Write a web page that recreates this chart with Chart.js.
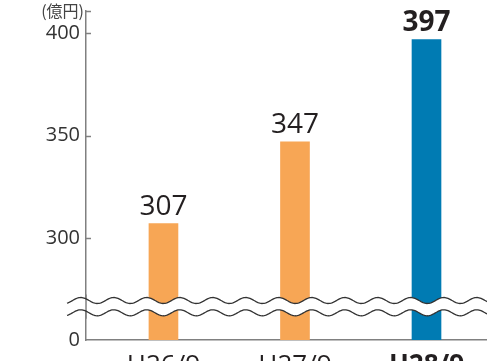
<!DOCTYPE html>
<html>
<head>
  <meta charset="utf-8">
  <title>売上高の推移</title>
  <script src="https://cdn.jsdelivr.net/npm/chart.js"></script>
  <style>
    html, body {
      margin: 0;
      padding: 0;
      background: #fff;
      overflow: hidden;
    }
    .wrap {
      position: absolute;
      left: 0;
      top: 0;
      width: 487px;
      height: 400px;
    }
  </style>
</head>
<body>
  <div class="wrap"><canvas id="salesChart"></canvas></div>

  <script>
    const categories = ['H26/9', 'H27/9', 'H28/9'];
    const values = [307, 347, 397];
    const yTicks = [250, 300, 350, 400];
    const yTickLabels = ['0', '300', '350', '400'];
    const unitLabel = '(億円)';

    const barColors = ['#f7a655', '#f7a655', '#007bb3'];
    const axisColor = '#808080';
    const textColor = '#231f20';
    const fontFamily = "'Open Sans', sans-serif";
    const latest = categories.length - 1;

    // wavy break marks across the lower part of the axis
    function wave(ctx, yc, x0, x1, back) {
      const amp = 3, period = 33, phase = 163.3;
      for (let i = 0; i <= x1 - x0; i++) {
        const x = back ? x1 - i : x0 + i;
        const y = yc + amp * Math.cos(2 * Math.PI * (x - phase) / period);
        if (i === 0 && !back) ctx.moveTo(x, y); else ctx.lineTo(x, y);
      }
    }

    const decorations = {
      id: 'decorations',
      afterDatasetsDraw(chart) {
        const { ctx, chartArea, scales: { y } } = chart;
        const x0 = 67, x1 = chart.width;
        const top = 300.5, bottom = 312.8;

        ctx.save();
        // white band between the two waves
        ctx.beginPath();
        wave(ctx, top, x0, x1, false);
        wave(ctx, bottom, x0, x1, true);
        ctx.closePath();
        ctx.fillStyle = '#fff';
        ctx.fill();

        // axis line through the band
        ctx.strokeStyle = axisColor;
        ctx.lineWidth = 1.5;
        ctx.beginPath();
        ctx.moveTo(chartArea.left, top - 6);
        ctx.lineTo(chartArea.left, bottom + 6);
        ctx.stroke();

        ctx.strokeStyle = '#333';
        ctx.lineWidth = 1.3;
        [top, bottom].forEach(yc => {
          ctx.beginPath();
          wave(ctx, yc, x0, x1, false);
          ctx.stroke();
        });

        // inward tick marks
        ctx.strokeStyle = axisColor;
        ctx.lineWidth = 1.5;
        yTicks.slice(1).concat([y.max]).forEach(v => {
          const py = Math.round(y.getPixelForValue(v)) + 0.5;
          ctx.beginPath();
          ctx.moveTo(chartArea.left, py);
          ctx.lineTo(chartArea.left + 5, py);
          ctx.stroke();
        });

        // unit label
        ctx.fillStyle = '#444';
        ctx.font = "16px 'Noto Sans CJK JP', sans-serif";
        ctx.textAlign = 'right';
        ctx.textBaseline = 'middle';
        ctx.fillText(unitLabel, 84, 11);

        // value labels above bars
        ctx.fillStyle = textColor;
        ctx.textAlign = 'center';
        ctx.textBaseline = 'alphabetic';
        chart.getDatasetMeta(0).data.forEach((bar, i) => {
          ctx.font = (i === latest ? 'bold ' : '') + '28px ' + fontFamily;
          ctx.fillText(values[i], bar.x, bar.y - 8.5);
        });
        ctx.restore();
      }
    };

    new Chart(document.getElementById('salesChart'), {
      type: 'bar',
      data: {
        datasets: [{
          data: values.map((v, i) => ({ x: i, y: v })),
          backgroundColor: barColors,
          barThickness: 29
        }]
      },
      options: {
        responsive: true,
        maintainAspectRatio: false,
        animation: false,
        layout: { padding: { top: 11, right: 0, bottom: 0, left: 0 } },
        plugins: {
          legend: { display: false },
          tooltip: { enabled: false }
        },
        scales: {
          x: {
            type: 'linear',
            offset: false,
            min: -0.589,
            max: 2.46,
            grid: { display: false, drawTicks: false },
            border: { color: axisColor, width: 1.5 },
            afterBuildTicks: s => { s.ticks = categories.map((c, i) => ({ value: i })); },
            afterFit: s => { s.height = 60; s.paddingLeft = 0; s.paddingRight = 0; },
            ticks: {
              padding: 10,
              color: textColor,
              autoSkip: false,
              maxRotation: 0,
              font: c => ({ family: fontFamily, size: 26, weight: c.index === latest ? 'bold' : 'normal' }),
              callback: v => categories[v]
            }
          },
          y: {
            min: 250,
            max: 411,
            grid: { display: false, drawTicks: false },
            border: { color: axisColor, width: 1.5 },
            afterBuildTicks: s => { s.ticks = yTicks.map(v => ({ value: v })); },
            afterFit: s => { s.width = 86; s.paddingTop = 0; s.paddingBottom = 0; },
            ticks: {
              padding: 6,
              color: '#333',
              font: { family: fontFamily, size: 20 },
              callback: (v, i) => yTickLabels[i]
            }
          }
        }
      },
      plugins: [decorations]
    });
  </script>
</body>
</html>
